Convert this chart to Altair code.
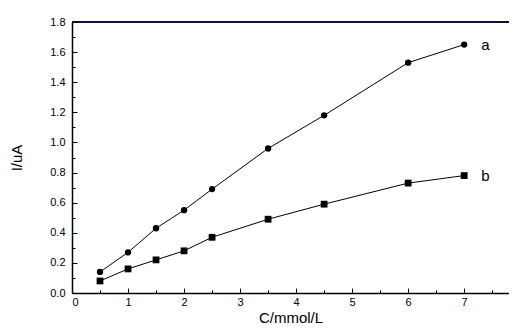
import altair as alt
import pandas as pd

# data
conc = [0.5, 1.0, 1.5, 2.0, 2.5, 3.5, 4.5, 6.0, 7.0]
current_a = [0.14, 0.27, 0.43, 0.55, 0.69, 0.96, 1.18, 1.53, 1.65]
current_b = [0.08, 0.16, 0.22, 0.28, 0.37, 0.49, 0.59, 0.73, 0.78]
series_names = ["a", "b"]

x_major = [0, 1, 2, 3, 4, 5, 6, 7]
x_minor = [0.5, 1.5, 2.5, 3.5, 4.5, 5.5, 6.5, 7.5]
y_major = [0.0, 0.2, 0.4, 0.6, 0.8, 1.0, 1.2, 1.4, 1.6, 1.8]
y_minor = [0.1, 0.3, 0.5, 0.7, 0.9, 1.1, 1.3, 1.5, 1.7]
x_end = 7.8

rows = []
for s, vals in zip(series_names, [current_a, current_b]):
    for c, v in zip(conc, vals):
        rows.append({"C": c, "I": v, "series": s})
df = pd.DataFrame(rows)
lab_df = pd.DataFrame({
    "C": [conc[-1], conc[-1]],
    "I": [current_a[-1], current_b[-1]],
    "series": series_names,
})
frame_df = pd.DataFrame({"fx": [x_major[0], x_end], "fy": [y_major[-1], y_major[-1]]})

FONT = "Liberation Sans"
xs = alt.Scale(domain=[0, x_end], nice=False, zero=False)
ys = alt.Scale(domain=[0, 1.8], nice=False, zero=False)

common = dict(grid=False, labelFont=FONT, titleFont=FONT, labelColor="black",
              titleColor="black", domainColor="black", tickColor="black",
              titleFontWeight="normal")

# top frame line (two stacked layers)
frame = alt.Chart(frame_df).mark_line(color="#000030", strokeWidth=1.5).encode(
    x=alt.X("fx:Q", scale=xs, axis=None),
    y=alt.Y("fy:Q", scale=ys, axis=None),
)
frame2 = alt.Chart(frame_df).mark_line(color="#000030", strokeWidth=1.5).encode(
    x=alt.X("fx:Q", scale=xs, axis=None),
    y=alt.Y("fy:Q", scale=ys, axis=None),
)

# lines, tick labels, titles, axis lines
lines = alt.Chart(df).mark_line(color="black", strokeWidth=1).encode(
    x=alt.X("C:Q", scale=xs, axis=alt.Axis(
        orient="bottom", title="C/mmol/L", values=x_major, ticks=False,
        tickSize=0, domain=True, domainWidth=1.5, labelFontSize=11,
        labelPadding=3, titleFontSize=15, titlePadding=3, **common)),
    y=alt.Y("I:Q", scale=ys, axis=alt.Axis(
        orient="left", title="I/uA", values=y_major, format=".1f", ticks=False,
        tickSize=0, domain=True, domainWidth=1.5, labelFontSize=11,
        labelPadding=7, titleFontSize=15, titlePadding=25, **common)),
    detail="series:N",
)

# points + major inward ticks
points = alt.Chart(df).mark_point(filled=True, color="black", opacity=1).encode(
    x=alt.X("C:Q", scale=xs, axis=alt.Axis(
        orient="bottom", title=None, values=x_major, ticks=True, tickSize=5,
        offset=-5, domain=False, labels=False, **common)),
    y=alt.Y("I:Q", scale=ys, axis=alt.Axis(
        orient="left", title=None, values=y_major, ticks=True, tickSize=5,
        offset=-5, domain=False, labels=False, **common)),
    shape=alt.Shape("series:N", scale=alt.Scale(domain=series_names,
                                                range=["circle", "square"]), legend=None),
    size=alt.Size("series:N", scale=alt.Scale(domain=series_names,
                                              range=[40, 46]), legend=None),
)

# series labels + minor inward ticks
labels = alt.Chart(lab_df).mark_text(
    align="left", baseline="middle", dx=17, fontSize=15, font=FONT, color="black"
).encode(
    x=alt.X("C:Q", scale=xs, axis=alt.Axis(
        orient="bottom", title=None, values=x_minor, ticks=True, tickSize=3,
        offset=-3, domain=False, labels=False, **common)),
    y=alt.Y("I:Q", scale=ys, axis=alt.Axis(
        orient="left", title=None, values=y_minor, ticks=True, tickSize=3,
        offset=-3, domain=False, labels=False, **common)),
    text="series:N",
)

chart = alt.layer(lines, points, labels, frame, frame2).resolve_scale(
    x="independent", y="independent"
).properties(
    width=437, height=271,
    autosize=alt.AutoSizeParams(type="none"),
    padding={"left": 64, "top": 14, "right": 0, "bottom": 33},
).configure_view(stroke=None).configure(background="white")

chart.save("out.html", embed_options={"renderer": "svg", "actions": False})
